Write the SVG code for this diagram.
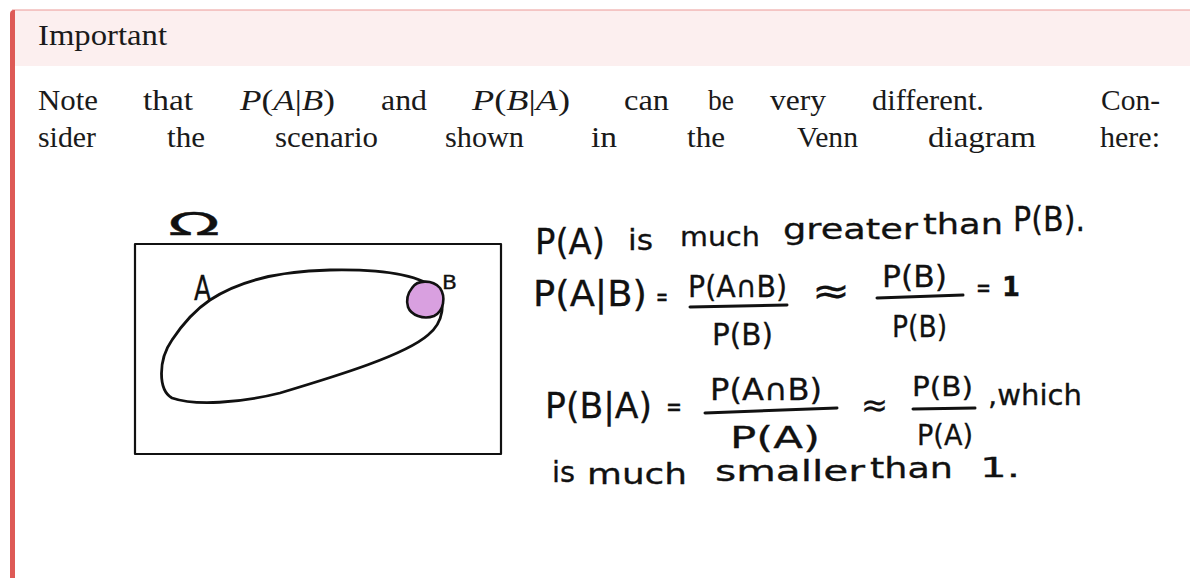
<svg xmlns="http://www.w3.org/2000/svg" width="1190" height="578" viewBox="0 0 1190 578">
  <style>
    .body { font-family: "Liberation Serif", "Times New Roman", serif; font-size: 30px; fill: #1a1a1a; }
    .it { font-style: italic; }
    .hw { font-family: "DejaVu Sans", "Liberation Sans", sans-serif; fill: #111; stroke: #111; stroke-width: 0.3; }
    .bar { stroke: #111; stroke-width: 3; stroke-linecap: round; fill: none; }
    .ink { stroke: #111; fill: none; stroke-linecap: round; stroke-linejoin: round; }
  </style>
  <rect width="1190" height="578" fill="#ffffff"/>

  <g id="callout">
    <rect x="15" y="10" width="1175" height="56" fill="#fcefef"/>
    <line x1="12" y1="10" x2="1190" y2="10" stroke="#eb9a98" stroke-width="1.2"/>
    <path d="M 10,578 L 10,14 Q 10,10 14,10 L 15,10 L 15,578 Z" fill="#de5a56"/>
    <text id="title" class="body" x="38" y="45" textLength="129" lengthAdjust="spacingAndGlyphs">Important</text>
  </g>

  <g id="paragraph" class="body">
    <text x="38" y="110" textLength="60" lengthAdjust="spacingAndGlyphs">Note</text>
    <text x="143" y="110" textLength="50" lengthAdjust="spacingAndGlyphs">that</text>
    <text x="240" y="110" textLength="95" lengthAdjust="spacingAndGlyphs"><tspan class="it">P</tspan>(<tspan class="it">A</tspan>|<tspan class="it">B</tspan>)</text>
    <text x="381" y="110" textLength="46" lengthAdjust="spacingAndGlyphs">and</text>
    <text x="472" y="110" textLength="98" lengthAdjust="spacingAndGlyphs"><tspan class="it">P</tspan>(<tspan class="it">B</tspan>|<tspan class="it">A</tspan>)</text>
    <text x="624" y="110" textLength="45" lengthAdjust="spacingAndGlyphs">can</text>
    <text x="708" y="110" textLength="26" lengthAdjust="spacingAndGlyphs">be</text>
    <text x="770" y="110" textLength="56" lengthAdjust="spacingAndGlyphs">very</text>
    <text x="872" y="110" textLength="112" lengthAdjust="spacingAndGlyphs">different.</text>
    <text x="1101" y="110" textLength="59" lengthAdjust="spacingAndGlyphs">Con-</text>

    <text x="38" y="147" textLength="58" lengthAdjust="spacingAndGlyphs">sider</text>
    <text x="167" y="147" textLength="38" lengthAdjust="spacingAndGlyphs">the</text>
    <text x="275" y="147" textLength="103" lengthAdjust="spacingAndGlyphs">scenario</text>
    <text x="445" y="147" textLength="79" lengthAdjust="spacingAndGlyphs">shown</text>
    <text x="591" y="147" textLength="26" lengthAdjust="spacingAndGlyphs">in</text>
    <text x="687" y="147" textLength="38" lengthAdjust="spacingAndGlyphs">the</text>
    <text x="797" y="147" textLength="61" lengthAdjust="spacingAndGlyphs">Venn</text>
    <text x="928" y="147" textLength="108" lengthAdjust="spacingAndGlyphs">diagram</text>
    <text x="1100" y="147" textLength="60" lengthAdjust="spacingAndGlyphs">here:</text>
  </g>

  <g id="venn">
    <g id="omega-box">
      <rect x="135" y="244" width="366" height="210" class="ink" stroke-width="2.2"/>
      <text class="hw" x="168" y="235" font-size="32" stroke-width="0" textLength="52" lengthAdjust="spacingAndGlyphs">Ω</text>
    </g>
    <g id="set-A">
      <path class="ink" stroke-width="2.8" d="M 210,300 C 240,280 280,271 330,270 C 380,269 420,274 436,290 C 446,302 444,322 428,335 C 405,355 340,375 280,393 C 240,403 195,406 172,398 C 158,390 158,360 172,340 C 182,325 195,310 210,300 Z"/>
      <text class="hw" x="194" y="300" font-size="34" stroke-width="0.8" textLength="17" lengthAdjust="spacingAndGlyphs">A</text>
    </g>
    <g id="set-B">
      <path d="M 412,288 C 417,280 432,279 440,288 C 446,297 444,311 434,316 C 423,320 411,315 408,307 C 406,300 408,293 412,288 Z" fill="#d9a0e0" stroke="#111" stroke-width="2.6" stroke-linejoin="round"/>
      <text class="hw" x="442" y="289" font-size="19" textLength="15" lengthAdjust="spacingAndGlyphs">B</text>
    </g>
  </g>

  <g id="notes" class="hw">
    <g id="note-1">
      <text x="535" y="254" font-size="36" textLength="70" lengthAdjust="spacingAndGlyphs">P(A)</text>
      <text x="628" y="250" font-size="28" textLength="25" lengthAdjust="spacingAndGlyphs">is</text>
      <text x="680" y="246" font-size="27" textLength="80" lengthAdjust="spacingAndGlyphs">much</text>
      <text x="783" y="239" font-size="28" textLength="135" lengthAdjust="spacingAndGlyphs">greater</text>
      <text x="923" y="234" font-size="29" textLength="80" lengthAdjust="spacingAndGlyphs">than</text>
      <text x="1013" y="231" font-size="34" textLength="72" lengthAdjust="spacingAndGlyphs">P(B).</text>
    </g>
    <g id="note-2">
      <text x="533" y="306" font-size="35" textLength="114" lengthAdjust="spacingAndGlyphs">P(A|B)</text>
      <text x="656" y="306" font-size="26" textLength="12" lengthAdjust="spacingAndGlyphs">=</text>
      <text x="688" y="297" font-size="30" textLength="99" lengthAdjust="spacingAndGlyphs">P(A∩B)</text>
      <line class="bar" x1="690" y1="307" x2="787" y2="305"/>
      <text x="712" y="345" font-size="31" textLength="61" lengthAdjust="spacingAndGlyphs">P(B)</text>
      <text x="812" y="304" font-size="38" textLength="38" lengthAdjust="spacingAndGlyphs">≈</text>
      <text x="882" y="287" font-size="31" textLength="65" lengthAdjust="spacingAndGlyphs">P(B)</text>
      <line class="bar" x1="877" y1="298" x2="963" y2="295"/>
      <text x="892" y="337" font-size="31" textLength="55" lengthAdjust="spacingAndGlyphs">P(B)</text>
      <text x="976" y="297" font-size="26" textLength="15" lengthAdjust="spacingAndGlyphs">=</text>
      <text x="1002" y="296" font-size="26" font-weight="bold" textLength="18" lengthAdjust="spacingAndGlyphs">1</text>
    </g>
    <g id="note-3">
      <text x="545" y="418" font-size="36" textLength="107" lengthAdjust="spacingAndGlyphs">P(B|A)</text>
      <text x="666" y="416" font-size="26" textLength="16" lengthAdjust="spacingAndGlyphs">=</text>
      <text x="710" y="400" font-size="30" textLength="112" lengthAdjust="spacingAndGlyphs">P(A∩B)</text>
      <line class="bar" x1="705" y1="413" x2="837" y2="408"/>
      <text x="730" y="448" font-size="31" textLength="90" lengthAdjust="spacingAndGlyphs">P(A)</text>
      <text x="861" y="416" font-size="32" textLength="27" lengthAdjust="spacingAndGlyphs">≈</text>
      <text x="912" y="396" font-size="26" textLength="61" lengthAdjust="spacingAndGlyphs">P(B)</text>
      <line class="bar" x1="913" y1="409" x2="975" y2="408"/>
      <text x="917" y="445" font-size="29" textLength="56" lengthAdjust="spacingAndGlyphs">P(A)</text>
      <text x="988" y="405" font-size="28" textLength="94" lengthAdjust="spacingAndGlyphs">,which</text>
    </g>
    <g id="note-4" font-size="28">
      <text x="552" y="482" textLength="23" lengthAdjust="spacingAndGlyphs">is</text>
      <text x="587" y="484" textLength="100" lengthAdjust="spacingAndGlyphs">much</text>
      <text x="715" y="481" textLength="150" lengthAdjust="spacingAndGlyphs">smaller</text>
      <text x="870" y="478" textLength="83" lengthAdjust="spacingAndGlyphs">than</text>
      <text x="980" y="477" font-size="26" textLength="40" lengthAdjust="spacingAndGlyphs">1.</text>
    </g>
  </g>
</svg>
